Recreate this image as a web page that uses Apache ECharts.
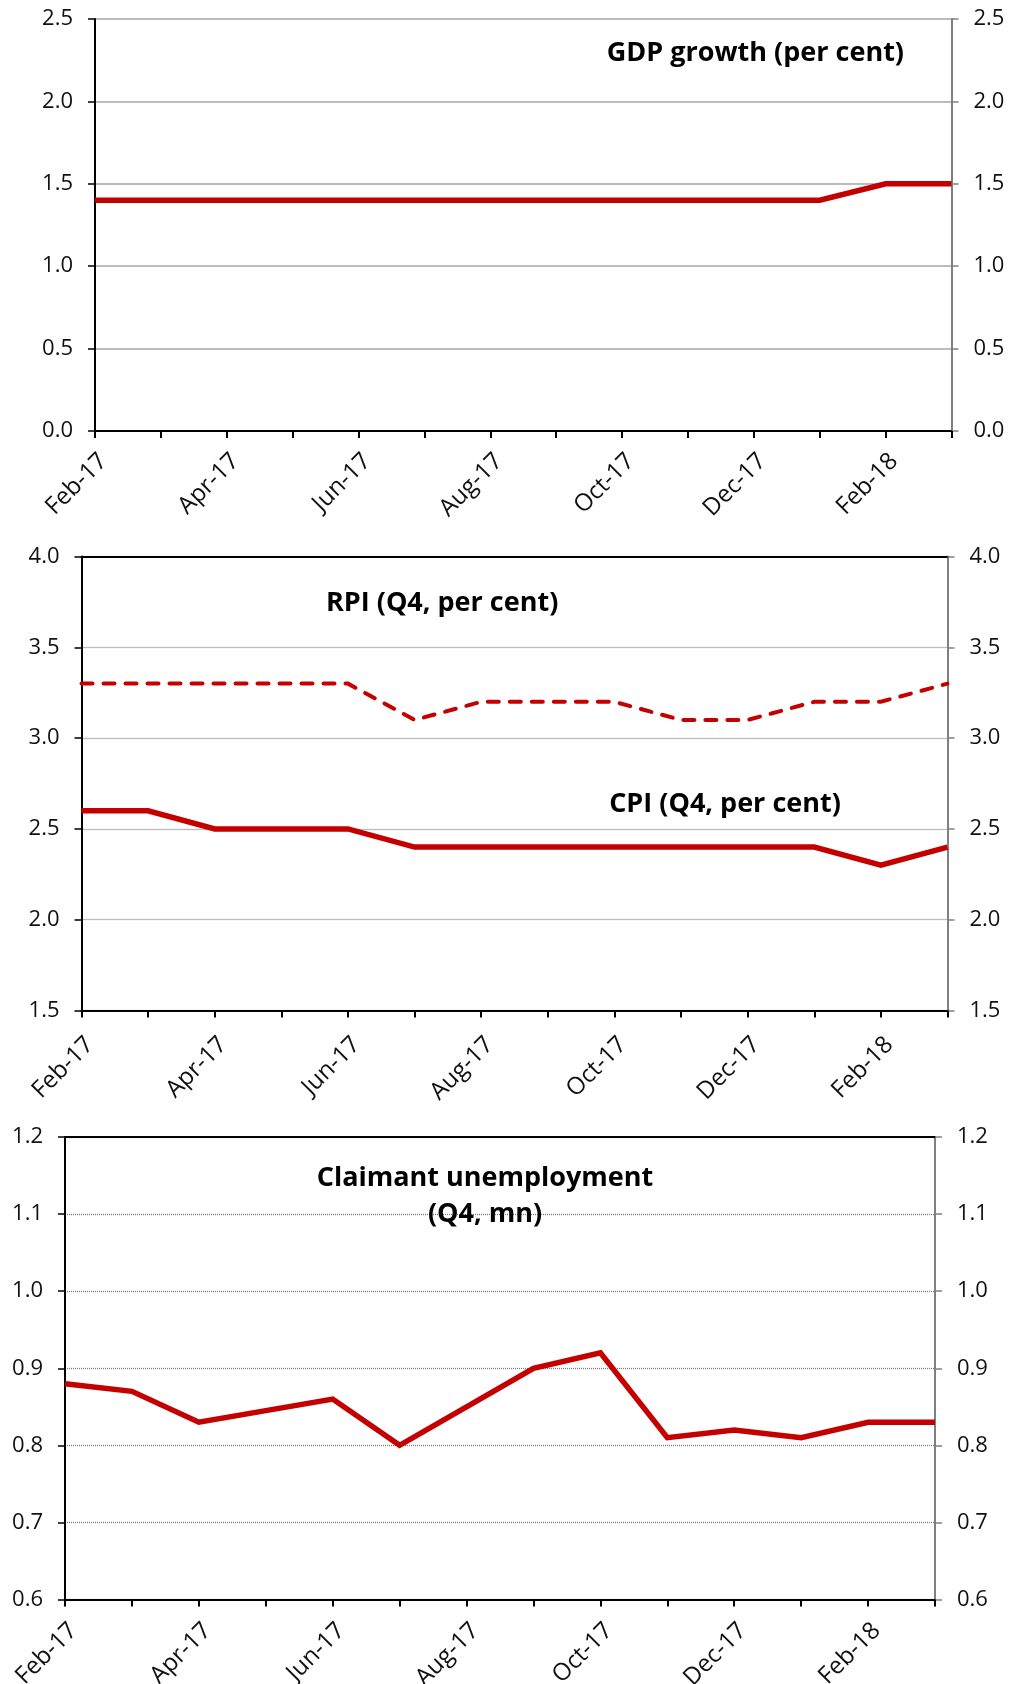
<!DOCTYPE html>
<html><head><meta charset="utf-8">
<script src="https://cdn.jsdelivr.net/npm/echarts@6/dist/echarts.min.js"></script>
<style>html,body{margin:0;padding:0;background:#fff}#c{width:1013px;height:1684px}</style>
</head><body><div id="c"></div>
<script>
// ---- data ----
const months = ['Feb-17','Mar-17','Apr-17','May-17','Jun-17','Jul-17','Aug-17','Sep-17','Oct-17','Nov-17','Dec-17','Jan-18','Feb-18','Mar-18'];
const gdpGrowth = [1.4,1.4,1.4,1.4,1.4,1.4,1.4,1.4,1.4,1.4,1.4,1.4,1.5,1.5];
const cpi = [2.6,2.6,2.5,2.5,2.5,2.4,2.4,2.4,2.4,2.4,2.4,2.4,2.3,2.4];
const rpi = [3.3,3.3,3.3,3.3,3.3,3.1,3.2,3.2,3.2,3.1,3.1,3.2,3.2,3.3];
const claimant = [0.88,0.87,0.83,0.845,0.86,0.80,0.85,0.90,0.92,0.81,0.82,0.81,0.83,0.83];
const gdpAxis = [0, 2.5, 0.5];
const inflAxis = [1.5, 4.0, 0.5];
const claimAxis = [0.6, 1.2, 0.1];
const titles = ['GDP growth (per cent)', 'RPI (Q4, per cent)', 'CPI (Q4, per cent)', 'Claimant unemployment', '(Q4, mn)'];

// ---- chart ----
const FONT = 'Open Sans';
const RED = '#c40000';
const chart = echarts.init(document.getElementById('c'), null, {renderer: 'canvas'});

const grids = [
  {left: 95, right: 61.5, top: 19, height: 412, outerBoundsMode: 'none', containLabel: false},
  {left: 81.5, right: 65.5, top: 556.5, height: 454, outerBoundsMode: 'none', containLabel: false},
  {left: 65, right: 78, top: 1137, height: 462.5, outerBoundsMode: 'none', containLabel: false}
];
const ranges = [gdpAxis, inflAxis, claimAxis];
const gridStyles = [
  {color: '#a6a6a6', width: 1.5, type: 'solid'},
  {color: '#7a7a7a', width: 1.3, type: [1, 1]},
  {color: '#7a7a7a', width: 1.3, type: [1, 1]}
];
const labelMargins = [18, 22, 19];

const xAxis = [], yAxis = [];
grids.forEach((g, i) => {
  xAxis.push({
    type: 'category', gridIndex: i, data: months, boundaryGap: false, position: 'bottom',
    axisLine: {lineStyle: {color: '#000', width: 2}},
    axisTick: {show: true, interval: 0, length: 7, lineStyle: {color: '#000', width: 2}},
    axisLabel: {interval: 1, rotate: 45, margin: labelMargins[i], verticalAlign: 'top', align: 'right',
      fontFamily: FONT, fontSize: 24, color: '#111'},
    splitLine: {show: false}
  });
  xAxis.push({
    type: 'category', gridIndex: i, data: months, boundaryGap: false, position: 'top',
    axisLine: {lineStyle: {color: '#000', width: 2}},
    axisTick: {show: false}, axisLabel: {show: false}, splitLine: {show: false}
  });
  const r = ranges[i];
  const fmt = v => v.toFixed(1);
  yAxis.push({
    type: 'value', gridIndex: i, min: r[0], max: r[1], interval: r[2], position: 'left',
    axisLine: {show: true, lineStyle: {color: '#000', width: 2}},
    axisTick: {show: true, length: 7, lineStyle: {color: '#000', width: 1.5}},
    axisLabel: {formatter: fmt, margin: 22, fontFamily: FONT, fontSize: 22, color: '#111'},
    splitLine: {show: true, lineStyle: gridStyles[i]}
  });
  yAxis.push({
    type: 'value', gridIndex: i, min: r[0], max: r[1], interval: r[2], position: 'right',
    axisLine: {show: true, lineStyle: {color: '#808080', width: 2}},
    axisTick: {show: true, length: 7, lineStyle: {color: '#808080', width: 1.5}},
    axisLabel: {formatter: fmt, margin: 22, fontFamily: FONT, fontSize: 22, color: '#111'},
    splitLine: {show: false}
  });
});

function line(data, gi, width, dash) {
  return {
    type: 'line', data: data, xAxisIndex: gi * 2, yAxisIndex: gi * 2,
    showSymbol: false, symbol: 'none', animation: false, z: 5,
    lineStyle: {color: RED, width: width, type: dash || 'solid', cap: dash ? 'round' : 'butt', join: 'miter'}
  };
}

const tStyle = (text, x, y, align) => ({
  type: 'text', z: 10,
  style: {text: text, x: x, y: y, textAlign: align, textVerticalAlign: 'middle',
    font: 'bold 27px "' + FONT + '"', fill: '#000'}
});

chart.setOption({
  animation: false,
  grid: grids,
  xAxis: xAxis,
  yAxis: yAxis,
  series: [
    line(gdpGrowth, 0, 5.5),
    line(rpi, 1, 4, [11, 11]),
    line(cpi, 1, 5.5),
    line(claimant, 2, 5.5)
  ],
  graphic: [
    tStyle(titles[0], 904, 53, 'right'),
    tStyle(titles[1], 326, 603, 'left'),
    tStyle(titles[2], 725, 804, 'center'),
    tStyle(titles[3], 485, 1178, 'center'),
    tStyle(titles[4], 485, 1214, 'center')
  ]
});
</script></body></html>
